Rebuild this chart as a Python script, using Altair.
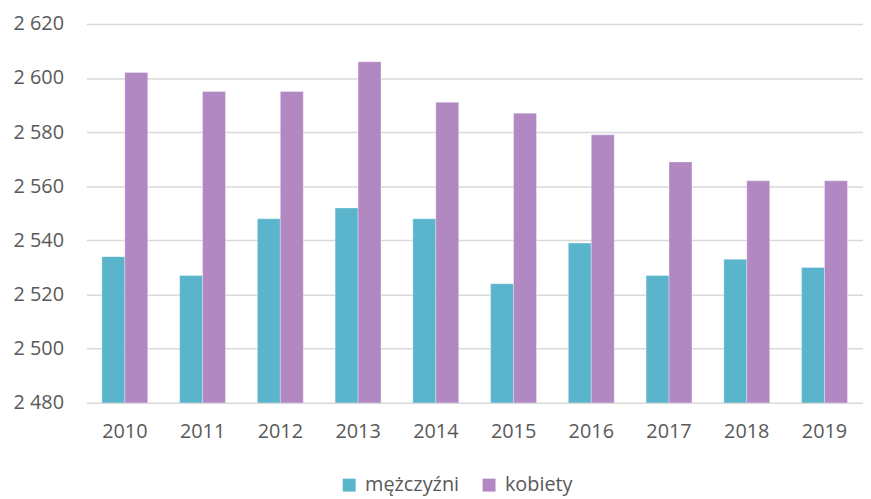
import altair as alt
import pandas as pd

years = ["2010", "2011", "2012", "2013", "2014", "2015", "2016", "2017", "2018", "2019"]
men = [2534, 2527, 2548, 2552, 2548, 2524, 2539, 2527, 2533, 2530]
women = [2602, 2595, 2595, 2606, 2591, 2587, 2579, 2569, 2562, 2562]
series = ["mężczyźni", "kobiety"]
colors = ["#5ab5cc", "#b288c3"]

rows = []
for y, m, w in zip(years, men, women):
    rows.append({"rok": y, "płeć": series[0], "wartość": m})
    rows.append({"rok": y, "płeć": series[1], "wartość": w})
df = pd.DataFrame(rows)

FONT = "Open Sans"
TXT = "#595959"

chart = alt.Chart(df).mark_bar(clip=True, stroke="white", strokeWidth=0.6, strokeOpacity=0.5).encode(
    x=alt.X("rok:N", sort=years, title=None,
            scale=alt.Scale(paddingInner=0.41),
            axis=alt.Axis(labelAngle=0, ticks=False, domain=False, labelFontSize=20,
                          labelColor=TXT, labelFont=FONT, labelPadding=19)),
    xOffset=alt.XOffset("płeć:N", sort=series),
    y=alt.Y("wartość:Q", title=None,
            scale=alt.Scale(domain=[2480, 2620], nice=False, zero=False),
            axis=alt.Axis(values=list(range(2480, 2621, 20)), ticks=False, domain=False,
                          labelExpr="replace(format(datum.value, ','), ',', ' ')",
                          labelFontSize=20, labelColor=TXT, labelFont=FONT, labelPadding=23,
                          gridColor="#d9d9d9", gridWidth=1.5)),
    color=alt.Color("płeć:N", sort=series,
                    scale=alt.Scale(domain=series, range=colors),
                    legend=alt.Legend(title=None, orient="none", direction="horizontal",
                                      legendX=255, legendY=455, symbolType="square",
                                      symbolSize=170, symbolStrokeWidth=0,
                                      labelFontSize=20, labelColor=TXT, labelFont=FONT,
                                      columnPadding=20, labelOffset=6)),
).properties(
    width=783, height=382,
    autosize=alt.AutoSizeParams(type="none"),
    padding={"left": 79, "top": 14, "right": 0, "bottom": 97},
).configure_view(stroke=None)

chart.save("out.html", embed_options={"renderer": "svg", "actions": False})
